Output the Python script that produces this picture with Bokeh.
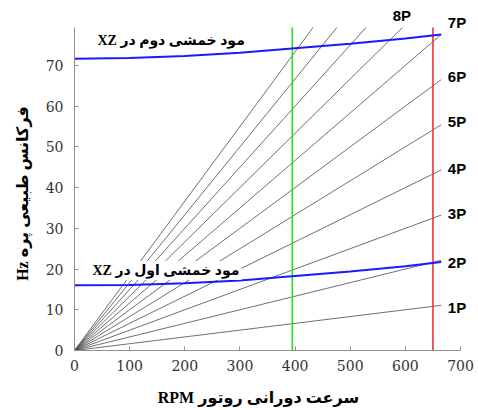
from bokeh.plotting import figure
from bokeh.models import Range1d, Label, FixedTicker
from bokeh.embed import file_html
from bokeh.resources import INLINE

# ---- data ----
orders = [1, 2, 3, 4, 5, 6, 7, 8, 9, 10, 11]          # excitation orders nP
rpm_end = 665                                          # end of the nP lines
hz_top = 79.3                                          # top of the y axis
rpm_axis_end = 700
mode_rpm = [0, 100, 200, 300, 400, 500, 600, 665]
mode1_hz = [16.0, 16.1, 16.5, 17.2, 18.3, 19.4, 20.7, 21.7]
mode2_hz = [71.6, 71.8, 72.3, 73.1, 74.2, 75.3, 76.6, 77.6]
rpm_green = 395
rpm_red = 650
order_labels = ["1P", "2P", "3P", "4P", "5P", "6P", "7P", "8P"]
order_label_x = [677, 677, 677, 677, 677, 677, 677, 577]
order_label_y = [10.6, 21.6, 33.7, 44.7, 56.3, 67.3, 80.6, 82.3]
x_ticks = [0, 100, 200, 300, 400, 500, 600, 700]
y_ticks = [0, 10, 20, 30, 40, 50, 60, 70]
mode_texts = ["XZ مود خمشی دوم در", "XZ مود خمشی اول در"]
mode_text_x = [38, 29]
mode_text_y = [76.1, 19.65]
x_title = "RPM  سرعت دورانی روتور" + "\u00a0" * 8
y_title = "Hz  فرکانس طبیعی پره" + "\u00a0" * 7

SERIF_AR = "'Liberation Serif', 'DejaVu Sans'"

p = figure(width=478, height=410, output_backend="svg", toolbar_location=None,
           x_range=Range1d(0, 732.6), y_range=Range1d(0, 84.95),
           min_border_left=74, min_border_right=0, min_border_top=4,
           min_border_bottom=60)
p.outline_line_color = None
p.grid.visible = False
p.background_fill_color = "white"

# nP lines, stopped at the top of the y axis
xs = [[0, min(rpm_end, hz_top * 60.0 / n)] for n in orders]
ys = [[0, min(n * rpm_end / 60.0, hz_top)] for n in orders]
p.multi_line(xs, ys, line_color="#4a4a4a", line_width=0.8)

# vertical operating lines
p.segment(x0=[rpm_green], y0=[0], x1=[rpm_green], y1=[hz_top],
          line_color="#22dd22", line_width=1.6)
p.segment(x0=[rpm_red], y0=[0], x1=[rpm_red], y1=[hz_top],
          line_color="#ee3333", line_width=1.6)

# mode curves
p.line(mode_rpm, mode1_hz, line_color="#1a1aff", line_width=2)
p.line(mode_rpm, mode2_hz, line_color="#1a1aff", line_width=2)

# order labels
for t, lx, ly in zip(order_labels, order_label_x, order_label_y):
    p.add_layout(Label(x=lx, y=ly, text=t, text_align="left", text_baseline="middle",
                       text_font="Liberation Sans", text_font_style="bold",
                       text_font_size="15px", text_color="black"))

# mode labels
for t, lx, ly in zip(mode_texts, mode_text_x, mode_text_y):
    p.add_layout(Label(x=lx, y=ly, text=t, text_align="left", text_baseline="middle",
                       text_font=SERIF_AR, text_font_style="bold",
                       text_font_size="14px", text_color="black",
                       background_fill_color="white", padding=2))

# axes
for ax in (p.xaxis[0], p.yaxis[0]):
    ax.axis_line_color = "#909090"
    ax.major_tick_line_color = "#909090"
    ax.major_tick_in = 4
    ax.major_tick_out = 0
    ax.minor_tick_line_color = None
    ax.major_label_text_font = "DejaVu Serif"
    ax.major_label_text_font_size = "14px"
    ax.major_label_text_color = "#333333"
    ax.axis_label_text_font = SERIF_AR
    ax.axis_label_text_font_style = "bold"
    ax.axis_label_text_font_size = "16px"
    ax.axis_label_text_color = "black"

p.xaxis[0].bounds = (0, rpm_axis_end)
p.yaxis[0].bounds = (0, hz_top)
p.xaxis[0].ticker = FixedTicker(ticks=x_ticks)
p.yaxis[0].ticker = FixedTicker(ticks=y_ticks)
p.xaxis[0].major_label_standoff = 9
p.yaxis[0].major_label_standoff = 11
p.xaxis[0].axis_label = x_title
p.yaxis[0].axis_label = y_title
p.xaxis[0].axis_label_standoff = 15
p.yaxis[0].axis_label_standoff = 12

open("out.html", "w").write(file_html(p, INLINE))
